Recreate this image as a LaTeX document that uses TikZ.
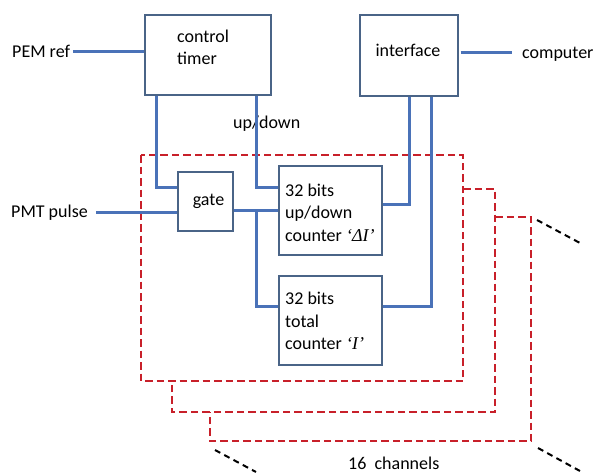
\documentclass[tikz,border=0pt]{standalone}
\usepackage{fontspec}
\setmainfont{Carlito}
\newfontfamily\qfont{Liberation Serif}
\usetikzlibrary{calc}
\definecolor{wireblue}{HTML}{4A72B8}
\definecolor{boxedge}{HTML}{4A6487}
\definecolor{dashred}{HTML}{C8202A}
\tikzset{
  box/.style={draw=boxedge, line width=1.2pt, inner sep=0pt, fill=none},
  txt/.style={inner sep=0pt, font=\fontsize{18}{22.5}\selectfont},
  wire/.style={draw=wireblue, line width=3pt},
  chan/.style={draw=dashred, line width=2pt, dash pattern=on 7.5pt off 4pt},
  persp/.style={draw=black, line width=2pt, dash pattern=on 6pt off 4.5pt}
}
\begin{document}
\begin{tikzpicture}[x=1pt,y=-1pt]
\useasboundingbox (0,0) rectangle (596,472);

% channel frames
\draw[chan] (141,155) rectangle (463,381);
\draw[chan] (463,189) -- (495,189) -- (495,412) -- (172,412) -- (172,381);
\draw[chan] (495,217) -- (531,217) -- (531,441) -- (210,441) -- (210,412);

% perspective lines
\draw[persp] (537,220) -- (580,243);
\draw[persp] (215,450) -- (256,472);
\draw[persp] (538,448) -- (580,471);

% boxes
\node[box, minimum width=126pt, minimum height=80pt] (ct) at (208,55) {};
\node[box, minimum width=98pt, minimum height=81pt] (ifc) at (409,55.5) {};
\node[box, minimum width=55pt, minimum height=59pt] (gate) at (205.5,201.5) {};
\node[box, minimum width=103pt, minimum height=89pt] (c1) at (330.5,210.5) {};
\node[box, minimum width=103pt, minimum height=89pt] (c2) at (330.5,320.5) {};

% box texts
\node[txt, anchor=base west] (ctl1) at (177,42) {control};
\node[txt, anchor=base west] (ctl2) at (177,64) {timer};
\node[txt, anchor=base] (ifcl) at (408,56.5) {interface};
\node[txt, anchor=base] (gatel) at (208.5,205) {gate};
\node[txt, anchor=base west] (c1l1) at (285,196) {32 bits};
\node[txt, anchor=base west] (c1l2) at (285,218) {up/down};
\node[txt, anchor=base west] (c1l3) at (285,241) {counter {\qfont\itshape ‘ΔI’}};
\node[txt, anchor=base west] (c2l1) at (285,304) {32 bits};
\node[txt, anchor=base west] (c2l2) at (285,327) {total};
\node[txt, anchor=base west] (c2l3) at (285,349) {counter {\qfont\itshape ‘I’}};

% outside labels
\node[txt, anchor=base west] (pem) at (12,57) {PEM ref};
\node[txt, anchor=base west] (pmt) at (11,217) {PMT pulse};
\node[txt, anchor=base west] (comp) at (522,58) {computer};
\node[txt, anchor=base west] (ud) at (233,128) {up/down};
\node[txt, anchor=base west] (ch) at (348,469) {16\ \ channels};

% free ends
\coordinate (pemend) at (73,51);
\coordinate (pmtend) at (96,212.5);
\coordinate (compend) at (512,52);

% wires
\draw[wire] (pemend) -- (pemend -| ct.west);
\draw[wire] (pmtend) -- (pmtend -| gate.west);
\draw[wire] ([xshift=2pt,yshift=3.5pt]ifc.east) -- (compend);
\draw[wire] ([xshift=12pt]ct.south west) |- ([yshift=-16pt]gate.north west);
\draw[wire] ([xshift=-15pt]ct.south east) |- ([yshift=-22pt]c1.north west);
\draw[wire] (gate.east |- c1.west) -- (c1.west);
\coordinate (br) at ($(gate.east |- c1.west)!0.5!(c1.west)$);
\draw[wire] (br) |- ([yshift=14.5pt]c2.west);
\draw[wire] (ifc.south) |- ([yshift=6.5pt]c1.east);
\draw[wire] ([xshift=22pt]ifc.south) |- ([yshift=14.5pt]c2.east);
\end{tikzpicture}
\end{document}
